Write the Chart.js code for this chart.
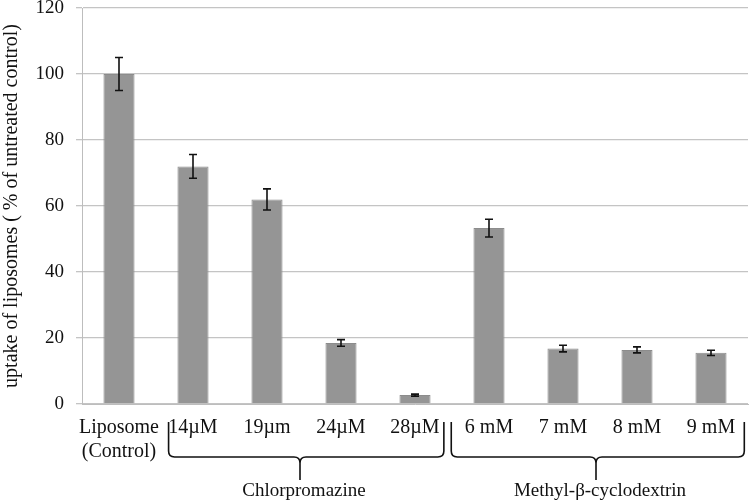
<!DOCTYPE html>
<html>
<head>
<meta charset="utf-8">
<script src="https://cdn.jsdelivr.net/npm/chart.js@4"></script>
<style>
  html, body { margin: 0; padding: 0; background: #fff; }
  #wrap { width: 750px; height: 502px; position: relative; }
</style>
</head>
<body>
<div id="wrap"><canvas id="chart"></canvas></div>
<script>
// Datos
const categories = [['Liposome', '(Control)'], '14\u00b5M', '19\u00b5m', '24\u00b5M', '28\u00b5M', '6 mM', '7 mM', '8 mM', '9 mM'];
const uptake = [100, 72, 62, 18.5, 2.7, 53.3, 16.8, 16.4, 15.5];
const errors = [5, 3.6, 3.2, 1, 0.3, 2.7, 1, 0.9, 0.8];
const yTicks = [0, 20, 40, 60, 80, 100, 120];
const groupNames = ['Chlorpromazine', 'Methyl-\u03b2-cyclodextrin'];
const groupRanges = [[1, 4], [5, 8]]; // indices de categorias

const serif = '"Liberation Serif", "Times New Roman", serif';

// Barras de error
const errorBars = {
  id: 'errorBars',
  afterDatasetsDraw(chart) {
    const { ctx, scales: { x, y } } = chart;
    ctx.save();
    ctx.strokeStyle = '#111';
    ctx.lineWidth = 1.6;
    uptake.forEach((v, i) => {
      const cx = x.getPixelForValue(i);
      const top = y.getPixelForValue(v + errors[i]);
      const bot = y.getPixelForValue(v - errors[i]);
      ctx.beginPath();
      ctx.moveTo(cx, top); ctx.lineTo(cx, bot);
      ctx.moveTo(cx - 4, top); ctx.lineTo(cx + 4, top);
      ctx.moveTo(cx - 4, bot); ctx.lineTo(cx + 4, bot);
      ctx.stroke();
    });
    ctx.restore();
  }
};

// Llaves de grupo bajo el eje
const braceOffsets = [[-0.33, 0.39, -4], [-0.51, 0.45, -4]]; // izquierda, derecha, punta
const braces = {
  id: 'braces',
  afterDraw(chart) {
    const { ctx, scales: { x } } = chart;
    const step = x.getPixelForValue(1) - x.getPixelForValue(0);
    const yTop = 422, yMid = 457, yTip = 480;
    ctx.save();
    ctx.strokeStyle = '#111';
    ctx.lineWidth = 1.6;
    ctx.fillStyle = '#111';
    ctx.font = '19px ' + serif;
    ctx.textAlign = 'center';
    ctx.textBaseline = 'middle';
    groupRanges.forEach((r, k) => {
      const o = braceOffsets[k];
      const x0 = x.getPixelForValue(r[0]) + step * o[0];
      const x1 = x.getPixelForValue(r[1]) + step * o[1];
      const xm = (x.getPixelForValue(r[0]) + x.getPixelForValue(r[1])) / 2 + o[2];
      const rr = 6;
      ctx.beginPath();
      ctx.moveTo(x0, yTop);
      ctx.lineTo(x0, yMid - rr);
      ctx.quadraticCurveTo(x0, yMid, x0 + rr, yMid);
      ctx.lineTo(xm - rr, yMid);
      ctx.quadraticCurveTo(xm, yMid, xm, yMid + rr);
      ctx.lineTo(xm, yTip);
      ctx.moveTo(xm, yMid + rr);
      ctx.quadraticCurveTo(xm, yMid, xm + rr, yMid);
      ctx.lineTo(x1 - rr, yMid);
      ctx.quadraticCurveTo(x1, yMid, x1, yMid - rr);
      ctx.lineTo(x1, yTop);
      ctx.stroke();
      ctx.fillText(groupNames[k], xm + 4, 491);
    });
    ctx.restore();
  }
};

const chart = new Chart(document.getElementById('chart'), {
  type: 'bar',
  data: {
    labels: categories,
    datasets: [{
      data: uptake,
      backgroundColor: '#959595',
      borderColor: '#8c8c8c',
      borderWidth: 1,
      categoryPercentage: 1,
      barPercentage: 0.42
    }]
  },
  options: {
    responsive: true,
    maintainAspectRatio: false,
    animation: false,
    layout: { padding: { top: 8, right: 2, left: 0, bottom: 0 } },
    plugins: { legend: { display: false }, tooltip: { enabled: false } },
    scales: {
      x: {
        grid: { display: false },
        border: { color: '#bdbdbd' },
        ticks: { color: '#111', font: { family: serif, size: 20 }, maxRotation: 0, autoSkip: false, padding: 4 },
        afterFit(s) { s.height = 98; }
      },
      y: {
        min: 0, max: 120,
        afterBuildTicks(s) { s.ticks = yTicks.map(v => ({ value: v })); },
        grid: { color: '#c4c4c4', lineWidth: 1.3, tickLength: 6 },
        border: { color: '#bdbdbd' },
        ticks: { color: '#111', font: { family: serif, size: 19 }, padding: 12 },
        title: {
          display: true,
          text: 'uptake of liposomes ( % of untreated control)',
          color: '#111',
          font: { family: serif, size: 20 },
          padding: { top: 0, bottom: 4 }
        },
        afterFit(s) { s.width = 82; s.paddingTop = 0; }
      }
    }
  },
  plugins: [errorBars, braces]
});
</script>
</body>
</html>
